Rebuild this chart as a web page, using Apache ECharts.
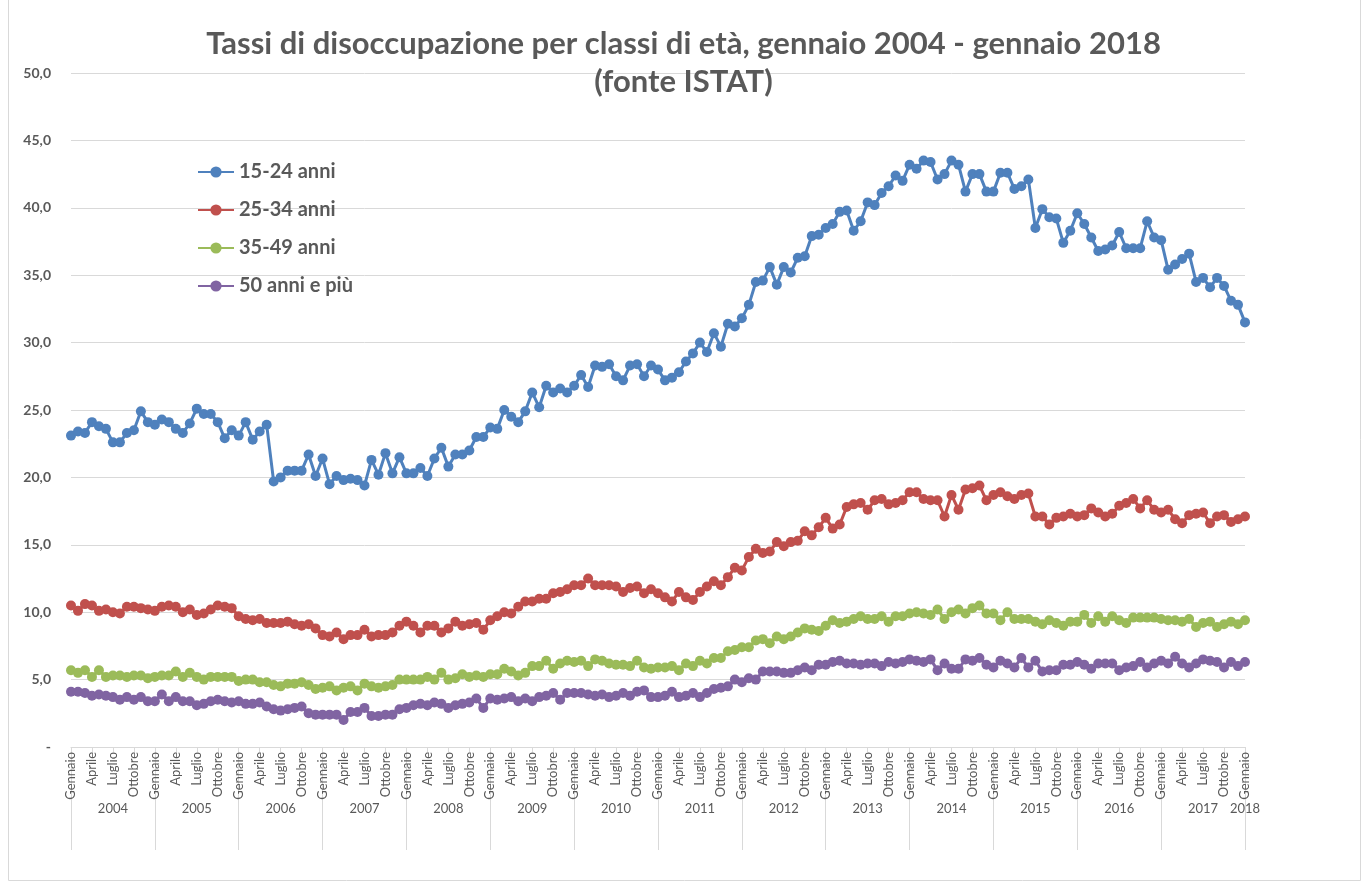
<!DOCTYPE html>
<html>
<head>
<meta charset="utf-8">
<title>Tassi di disoccupazione per classi di età</title>
<script src="https://cdn.jsdelivr.net/npm/echarts@6/dist/echarts.min.js"></script>
<style>
    html, body { margin: 0; padding: 0; background: #fff; }
    #chart { width: 1367px; height: 888px; }
</style>
</head>
<body>
<div id="chart"></div>
<script>
// mesi e anni (gennaio 2004 - gennaio 2018)
const years = [2004, 2005, 2006, 2007, 2008, 2009, 2010, 2011, 2012, 2013, 2014, 2015, 2016, 2017, 2018];
const months = ['Gennaio', 'Febbraio', 'Marzo', 'Aprile', 'Maggio', 'Giugno', 'Luglio', 'Agosto', 'Settembre', 'Ottobre', 'Novembre', 'Dicembre'];

// valori, un valore per mese
const eta15_24 = [
    23.1, 23.4, 23.3, 24.1, 23.8, 23.6, 22.6, 22.6, 23.3, 23.5, 24.9, 24.1,
    23.9, 24.3, 24.1, 23.6, 23.3, 24.0, 25.1, 24.7, 24.7, 24.1, 22.9, 23.5,
    23.1, 24.1, 22.8, 23.4, 23.9, 19.7, 20.0, 20.5, 20.5, 20.5, 21.7, 20.1,
    21.4, 19.5, 20.1, 19.8, 19.9, 19.8, 19.4, 21.3, 20.2, 21.8, 20.3, 21.5,
    20.3, 20.3, 20.7, 20.1, 21.4, 22.2, 20.8, 21.7, 21.7, 22.0, 23.0, 23.0,
    23.7, 23.6, 25.0, 24.5, 24.1, 24.9, 26.3, 25.2, 26.8, 26.3, 26.6, 26.3,
    26.8, 27.6, 26.7, 28.3, 28.2, 28.4, 27.5, 27.2, 28.3, 28.4, 27.5, 28.3,
    28.0, 27.2, 27.4, 27.8, 28.6, 29.2, 30.0, 29.3, 30.7, 29.7, 31.4, 31.2,
    31.8, 32.8, 34.5, 34.6, 35.6, 34.3, 35.6, 35.2, 36.3, 36.4, 37.9, 38.0,
    38.5, 38.8, 39.7, 39.8, 38.3, 39.0, 40.4, 40.2, 41.1, 41.6, 42.4, 42.0,
    43.2, 42.9, 43.5, 43.4, 42.1, 42.5, 43.5, 43.2, 41.2, 42.5, 42.5, 41.2,
    41.2, 42.6, 42.6, 41.4, 41.6, 42.1, 38.5, 39.9, 39.3, 39.2, 37.4, 38.3,
    39.6, 38.8, 37.8, 36.8, 36.9, 37.2, 38.2, 37.0, 37.0, 37.0, 39.0, 37.8,
    37.6, 35.4, 35.8, 36.2, 36.6, 34.5, 34.8, 34.1, 34.8, 34.2, 33.1, 32.8,
    31.5
];
const eta25_34 = [
    10.5, 10.1, 10.6, 10.5, 10.1, 10.2, 10.0, 9.9, 10.4, 10.4, 10.3, 10.2,
    10.1, 10.4, 10.5, 10.4, 10.0, 10.2, 9.8, 9.9, 10.2, 10.5, 10.4, 10.3,
    9.7, 9.5, 9.4, 9.5, 9.2, 9.2, 9.2, 9.3, 9.1, 9.0, 9.1, 8.8,
    8.3, 8.2, 8.5, 8.0, 8.3, 8.3, 8.7, 8.2, 8.3, 8.3, 8.5, 9.0,
    9.3, 9.0, 8.5, 9.0, 9.0, 8.5, 8.8, 9.3, 9.0, 9.1, 9.2, 8.7,
    9.4, 9.7, 10.0, 9.9, 10.4, 10.8, 10.8, 11.0, 11.0, 11.4, 11.5, 11.7,
    12.0, 12.0, 12.5, 12.0, 12.0, 12.0, 11.9, 11.5, 11.8, 11.9, 11.4, 11.7,
    11.4, 11.1, 10.8, 11.5, 11.1, 10.9, 11.5, 11.9, 12.3, 12.0, 12.6, 13.3,
    13.1, 14.1, 14.7, 14.4, 14.5, 15.2, 14.9, 15.2, 15.3, 16.0, 15.7, 16.3,
    17.0, 16.2, 16.5, 17.8, 18.0, 18.1, 17.6, 18.3, 18.4, 18.0, 18.1, 18.3,
    18.9, 18.9, 18.4, 18.3, 18.3, 17.1, 18.7, 17.6, 19.1, 19.2, 19.4, 18.3,
    18.7, 18.9, 18.6, 18.4, 18.7, 18.8, 17.1, 17.1, 16.5, 17.0, 17.1, 17.3,
    17.1, 17.2, 17.7, 17.4, 17.1, 17.3, 17.9, 18.1, 18.4, 17.7, 18.3, 17.6,
    17.4, 17.6, 16.9, 16.6, 17.2, 17.3, 17.4, 16.6, 17.1, 17.2, 16.7, 16.9,
    17.1
];
const eta35_49 = [
    5.7, 5.5, 5.7, 5.2, 5.7, 5.2, 5.3, 5.3, 5.2, 5.3, 5.3, 5.1,
    5.2, 5.3, 5.3, 5.6, 5.2, 5.5, 5.2, 5.0, 5.2, 5.2, 5.2, 5.2,
    4.9, 5.0, 5.0, 4.8, 4.8, 4.6, 4.5, 4.7, 4.7, 4.8, 4.6, 4.3,
    4.4, 4.5, 4.2, 4.4, 4.5, 4.2, 4.7, 4.5, 4.4, 4.5, 4.6, 5.0,
    5.0, 5.0, 5.0, 5.2, 5.0, 5.5, 5.0, 5.1, 5.4, 5.2, 5.3, 5.2,
    5.4, 5.4, 5.8, 5.6, 5.3, 5.5, 6.0, 6.0, 6.4, 5.8, 6.2, 6.4,
    6.3, 6.4, 6.0, 6.5, 6.4, 6.2, 6.1, 6.1, 6.0, 6.4, 5.9, 5.8,
    5.9, 5.9, 6.0, 5.7, 6.2, 6.0, 6.4, 6.2, 6.6, 6.6, 7.1, 7.2,
    7.4, 7.4, 7.9, 8.0, 7.7, 8.2, 8.0, 8.2, 8.5, 8.8, 8.7, 8.6,
    9.0, 9.4, 9.2, 9.3, 9.5, 9.7, 9.5, 9.5, 9.7, 9.3, 9.7, 9.7,
    9.9, 10.0, 9.9, 9.8, 10.2, 9.5, 10.0, 10.2, 9.9, 10.3, 10.5, 9.9,
    9.9, 9.4, 10.0, 9.5, 9.5, 9.5, 9.3, 9.1, 9.4, 9.2, 9.0, 9.3,
    9.3, 9.8, 9.2, 9.7, 9.3, 9.7, 9.4, 9.2, 9.6, 9.6, 9.6, 9.6,
    9.5, 9.4, 9.4, 9.3, 9.5, 8.9, 9.2, 9.3, 8.9, 9.1, 9.3, 9.1,
    9.4
];
const eta50piu = [
    4.1, 4.1, 4.0, 3.8, 3.9, 3.8, 3.7, 3.5, 3.7, 3.5, 3.7, 3.4,
    3.4, 3.9, 3.4, 3.7, 3.4, 3.4, 3.1, 3.2, 3.4, 3.5, 3.4, 3.3,
    3.4, 3.2, 3.2, 3.3, 3.0, 2.8, 2.7, 2.8, 2.9, 3.0, 2.5, 2.4,
    2.4, 2.4, 2.4, 2.0, 2.6, 2.6, 2.9, 2.3, 2.3, 2.4, 2.4, 2.8,
    2.9, 3.1, 3.2, 3.1, 3.3, 3.2, 2.9, 3.1, 3.2, 3.3, 3.6, 2.9,
    3.6, 3.5, 3.6, 3.7, 3.4, 3.6, 3.4, 3.7, 3.8, 4.0, 3.5, 4.0,
    4.0, 4.0, 3.9, 3.8, 3.9, 3.7, 3.8, 4.0, 3.8, 4.1, 4.2, 3.7,
    3.7, 3.8, 4.1, 3.7, 3.8, 4.0, 3.7, 4.0, 4.3, 4.4, 4.5, 5.0,
    4.8, 5.1, 5.0, 5.6, 5.6, 5.6, 5.5, 5.5, 5.7, 5.9, 5.7, 6.1,
    6.1, 6.3, 6.4, 6.2, 6.2, 6.1, 6.2, 6.2, 6.0, 6.3, 6.2, 6.3,
    6.5, 6.4, 6.3, 6.5, 5.7, 6.2, 5.8, 5.8, 6.5, 6.4, 6.6, 6.1,
    5.9, 6.4, 6.2, 5.9, 6.6, 5.9, 6.4, 5.6, 5.7, 5.7, 6.1, 6.1,
    6.3, 6.1, 5.8, 6.2, 6.2, 6.2, 5.7, 5.9, 6.0, 6.3, 5.9, 6.2,
    6.4, 6.2, 6.7, 6.2, 5.9, 6.2, 6.5, 6.4, 6.3, 5.9, 6.3, 6.0,
    6.3
];

// categorie: anno-mese
let categories = []
years.forEach(y => {
    months.forEach((m, i) => {
        if (y < 2018 || i === 0) categories.push(y + '-' + m)
    })
})
const lastIdx = categories.length - 1  // 168

const grigio = '#595959'
const lineaGriglia = '#d9d9d9'

let chart = echarts.init(document.getElementById('chart'))
chart.setOption({
    animation: false,
    graphic: [
        {
            // cornice del grafico
            type: 'rect',
            shape: { x: 8.5, y: -1, width: 1352, height: 881.5 },
            style: { fill: 'none', stroke: lineaGriglia, lineWidth: 1 },
            silent: true
        }
    ],
    title: {
        text: 'Tassi di disoccupazione per classi di età, gennaio 2004 - gennaio 2018\n(fonte ISTAT)',
        left: 'center',
        top: 20,
        textStyle: {
            fontFamily: 'Lato',
            fontSize: 31,
            fontWeight: 'bold',
            color: grigio,
            lineHeight: 38
        }
    },
    legend: {
        orient: 'vertical',
        left: 192,
        top: 157,
        itemWidth: 36,
        itemHeight: 14,
        itemGap: 18,
        textStyle: {
            fontFamily: 'Lato',
            fontSize: 20,
            fontWeight: 'bold',
            color: grigio
        }
    },
    grid: {
        left: 71,
        right: 122,
        top: 73,
        bottom: 141
    },
    xAxis: [
        {
            type: 'category',
            data: categories,
            boundaryGap: false,
            axisLine: { lineStyle: { color: lineaGriglia } },
            axisTick: { interval: 2, length: 5, lineStyle: { color: lineaGriglia } },
            axisLabel: {
                interval: 2,
                rotate: 90,
                margin: 5,
                fontFamily: 'Lato',
                fontSize: 13,
                color: grigio,
                formatter: v => v.split('-')[1]
            }
        },
        {
            // separatori degli anni
            type: 'value',
            min: 0,
            max: lastIdx,
            interval: 12,
            position: 'bottom',
            axisLine: { show: false },
            axisTick: { length: 103, lineStyle: { color: lineaGriglia } },
            axisLabel: { show: false },
            splitLine: { show: false }
        },
        {
            // etichette degli anni
            type: 'value',
            min: 0,
            max: lastIdx,
            interval: 6,
            position: 'bottom',
            axisLine: { show: false },
            axisTick: { show: false },
            splitLine: { show: false },
            axisLabel: {
                margin: 55,
                fontFamily: 'Lato',
                fontSize: 13,
                color: grigio,
                showMinLabel: true,
                showMaxLabel: true,
                formatter: v => {
                    if (v === lastIdx) return String(years[years.length - 1])
                    if (v % 12 === 6) return String(years[(v - 6) / 12])
                    return ''
                }
            }
        }
    ],
    yAxis: {
        type: 'value',
        min: 0,
        max: 50,
        interval: 5,
        axisLine: { show: false },
        axisTick: { show: false },
        splitLine: { lineStyle: { color: lineaGriglia } },
        axisLabel: {
            margin: 20,
            fontFamily: 'Lato',
            fontSize: 14,
            fontWeight: 'bold',
            color: grigio,
            formatter: v => v === 0 ? '-' : v.toFixed(1).replace('.', ',')
        }
    },
    series: [
        { name: '15-24 anni', data: eta15_24, color: '#4f81bd' },
        { name: '25-34 anni', data: eta25_34, color: '#c0504d' },
        { name: '35-49 anni', data: eta35_49, color: '#9bbb59' },
        { name: '50 anni e più', data: eta50piu, color: '#8064a2' }
    ].map(s => ({
        type: 'line',
        name: s.name,
        data: s.data,
        symbol: 'circle',
        symbolSize: 10,
        showAllSymbol: true,
        itemStyle: { color: s.color },
        lineStyle: { color: s.color, width: 3 }
    }))
})
</script>
</body>
</html>
